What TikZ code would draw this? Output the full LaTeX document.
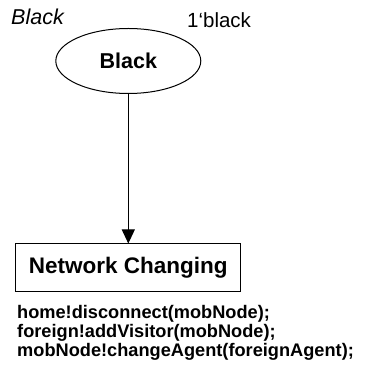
\documentclass[tikz,border=0pt]{standalone}
\usepackage{fontspec}
\setmainfont{Liberation Sans}
\usetikzlibrary{shapes.geometric,arrows.meta}
\begin{document}
\begin{tikzpicture}[x=1pt,y=1pt,
  place/.style={ellipse,draw,line width=1pt,minimum width=145pt,minimum height=65pt,inner sep=0pt,
    font=\fontsize{21.5}{24}\selectfont\bfseries},
  trans/.style={rectangle,draw,line width=1pt,minimum width=225pt,minimum height=48pt,inner sep=0pt,
    font=\fontsize{22.5}{24}\selectfont\bfseries},
  arc/.style={line width=1pt,-{Triangle[length=14pt,width=13pt]}},
  plain/.style={inner sep=0pt,anchor=base west}]
\useasboundingbox (0,0) rectangle (372,372);
% colour set name, place, initial marking
\node[plain,font=\fontsize{21.5}{24}\selectfont\itshape] (colset) at (11,347) {Black};
\node[place] (black) at (128.3,311) {Black};
\node[plain,font=\fontsize{20.5}{24}\selectfont] (marking) at (187,344) {1‘black};
% transition and its code segment
\node[trans] (netchg) at (128.3,104) {Network Changing};
\node[plain,align=left,font=\fontsize{18.2}{18.5}\selectfont\bfseries] (code) at (17,16)
  {home!disconnect(mobNode);\\foreign!addVisitor(mobNode);\\mobNode!changeAgent(foreignAgent);};
\draw[arc] (black) -- (netchg);
\end{tikzpicture}
\end{document}
